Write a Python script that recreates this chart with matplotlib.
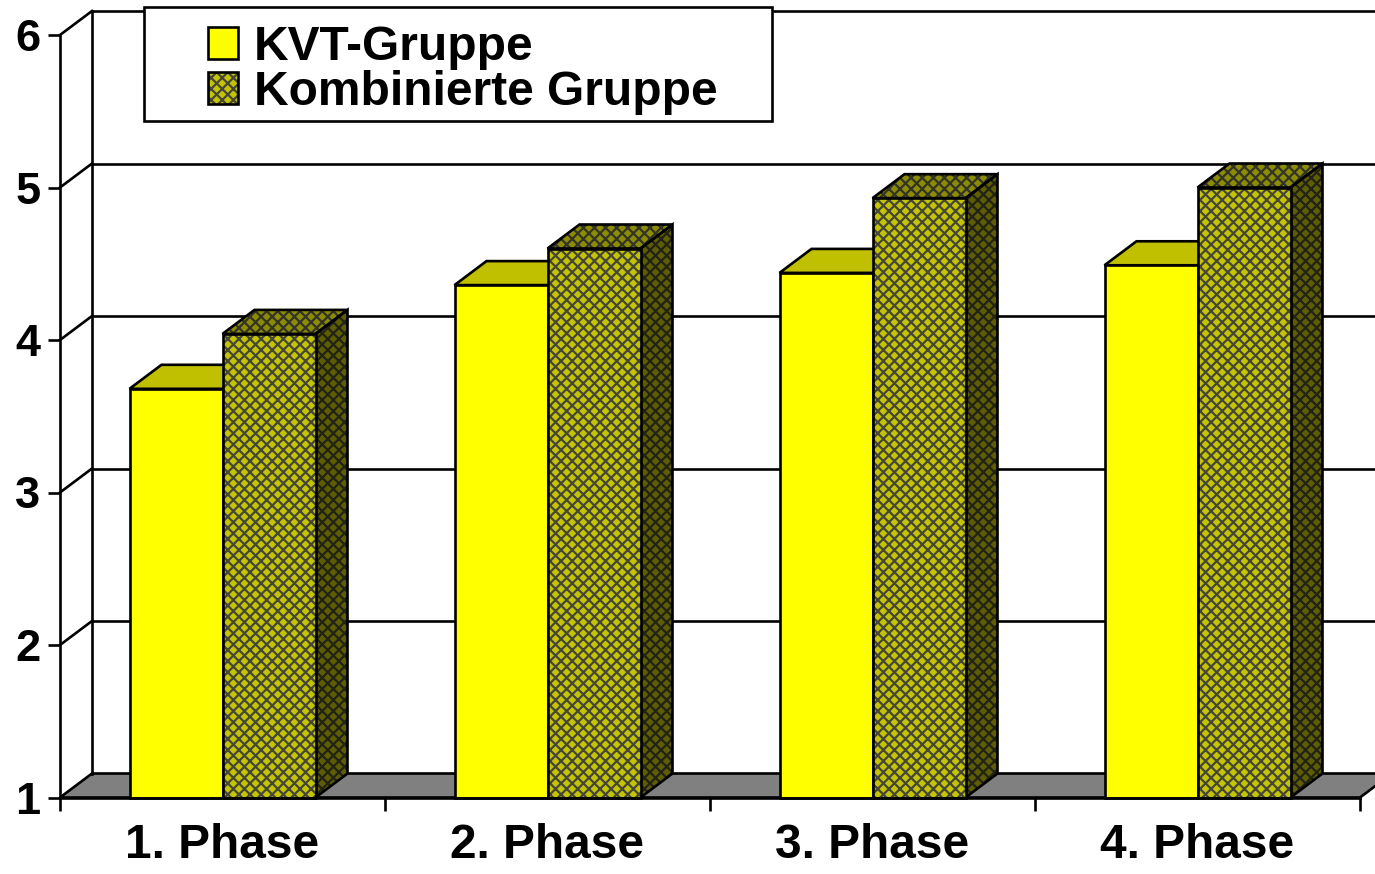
import matplotlib
matplotlib.use("Agg")
import matplotlib.pyplot as plt
from matplotlib.patches import Polygon, Rectangle
from matplotlib.legend_handler import HandlerTuple

# Data
phases = ["1. Phase", "2. Phase", "3. Phase", "4. Phase"]
kvt = [3.68, 4.36, 4.44, 4.49]
kombiniert = [4.04, 4.60, 4.93, 5.00]
series_names = ["KVT-Gruppe", "Kombinierte Gruppe"]
y_ticks = [1, 2, 3, 4, 5, 6]

plt.rcParams["font.family"] = ["Liberation Sans", "DejaVu Sans"]
plt.rcParams["font.weight"] = "bold"
plt.rcParams["hatch.linewidth"] = 1.6

W, H = 1375, 874
fig = plt.figure(figsize=(W / 100, H / 100), dpi=100)
ax = fig.add_axes([60 / W, (H - 797.5) / H, 1300 / W, 762.5 / H])
ax.set_xlim(0, len(phases))
ax.set_ylim(y_ticks[0], y_ticks[-1])

# pseudo-3D depth offset in data units
DX = 32 / 325
DY = 24 / 152.5
LW = 1.9
ymin, ymax = y_ticks[0], y_ticks[-1]
xmax = len(phases)

# floor
floor = Polygon([(0, ymin), (xmax, ymin), (xmax + DX, ymin + DY), (DX, ymin + DY)],
                closed=True, facecolor="#808080", edgecolor="black", lw=LW,
                clip_on=False, zorder=1)
ax.add_patch(floor)

# back wall: left edge, gridlines and side-wall diagonals
ax.plot([DX, DX], [ymin + DY, ymax + DY], color="black", lw=LW, clip_on=False, zorder=1)
for v in y_ticks[1:]:
    ax.plot([DX, xmax + DX + 0.2], [v + DY, v + DY], color="black", lw=LW,
            clip_on=False, zorder=1)
    ax.plot([0, DX], [v, v + DY], color="black", lw=LW, clip_on=False, zorder=1)

# bars
bw = 93 / 325
centers = [i + 0.5 for i in range(len(phases))]

KVT_FRONT, KVT_TOP, KVT_SIDE = "#FFFF00", "#C0C000", "#808000"
K_FRONT, K_TOP, K_SIDE = "#C4C400", "#8C8C00", "#5E5E00"
K_HATCH_FRONT, K_HATCH_TOP, K_HATCH_SIDE = "#454538", "#333328", "#222218"
HATCH = "xxx"


def box_faces(x0, v, face_top, face_side, hatch=None, hc_top=None, hc_side=None):
    x1 = x0 + bw
    top = [(x0, v), (x1, v), (x1 + DX, v + DY), (x0 + DX, v + DY)]
    side = [(x1, ymin), (x1 + DX, ymin + DY), (x1 + DX, v + DY), (x1, v)]
    for pts, fc, hc in ((top, face_top, hc_top), (side, face_side, hc_side)):
        if hatch:
            ax.add_patch(Polygon(pts, closed=True, facecolor=fc, edgecolor=hc,
                                 lw=0, hatch=hatch, clip_on=False, zorder=3))
            ax.add_patch(Polygon(pts, closed=True, fill=False, edgecolor="black",
                                 lw=LW, clip_on=False, zorder=3.1))
        else:
            ax.add_patch(Polygon(pts, closed=True, facecolor=fc, edgecolor="black",
                                 lw=LW, clip_on=False, zorder=3))


kvt_x = [c - bw for c in centers]
kom_x = list(centers)

for i in range(len(phases)):
    box_faces(kvt_x[i], kvt[i], KVT_TOP, KVT_SIDE)

kvt_bars = ax.bar(kvt_x, [v - ymin for v in kvt], bottom=ymin, width=bw, align="edge",
                  color=KVT_FRONT, edgecolor="black", lw=LW, zorder=4, clip_on=False)

for i in range(len(phases)):
    box_faces(kom_x[i], kombiniert[i], K_TOP, K_SIDE, HATCH, K_HATCH_TOP, K_HATCH_SIDE)

kom_fill = ax.bar(kom_x, [v - ymin for v in kombiniert], bottom=ymin, width=bw, align="edge",
                  color=K_FRONT, edgecolor=K_HATCH_FRONT, lw=0, hatch=HATCH, zorder=5,
                  clip_on=False)
kom_edge = ax.bar(kom_x, [v - ymin for v in kombiniert], bottom=ymin, width=bw, align="edge",
                  fill=False, edgecolor="black", lw=LW, zorder=5.1, clip_on=False)

# axes styling
for s in ("top", "right"):
    ax.spines[s].set_visible(False)
for s in ("left", "bottom"):
    ax.spines[s].set_linewidth(LW)
    ax.spines[s].set_zorder(6)
ax.set_facecolor("none")

ax.set_yticks(y_ticks)
ax.set_yticklabels([str(t) for t in y_ticks], fontsize=32.5, fontweight="bold")
ax.tick_params(axis="y", direction="out", length=9, width=LW, pad=5)

ax.set_xticks(centers)
ax.set_xticklabels(phases, fontsize=34.5, fontweight="bold")
ax.set_xticks(range(len(phases) + 1), minor=True)
ax.tick_params(axis="x", which="major", length=0, pad=18.5)
ax.tick_params(axis="x", which="minor", direction="out", length=9, width=LW)

# legend box
frame = Rectangle((144 / W, 1 - 121 / H), (772 - 144) / W, (121 - 7) / H,
                  transform=fig.transFigure, facecolor="white", edgecolor="black",
                  lw=LW, zorder=9)
fig.patches.append(frame)

leg = fig.legend([kvt_bars, (kom_fill, kom_edge)], series_names,
                 handler_map={tuple: HandlerTuple(ndivide=1, pad=0)},
                 loc="upper left", bbox_to_anchor=(208 / W, 1 - 25 / H),
                 bbox_transform=fig.transFigure, borderaxespad=0, borderpad=0,
                 prop={"size": 34.5, "weight": "bold"},
                 handlelength=0.63, handleheight=0.63, handletextpad=0.32,
                 labelspacing=0.0, frameon=False)
leg.set_zorder(10)

fig.savefig("out.png", dpi=100, facecolor="white")
